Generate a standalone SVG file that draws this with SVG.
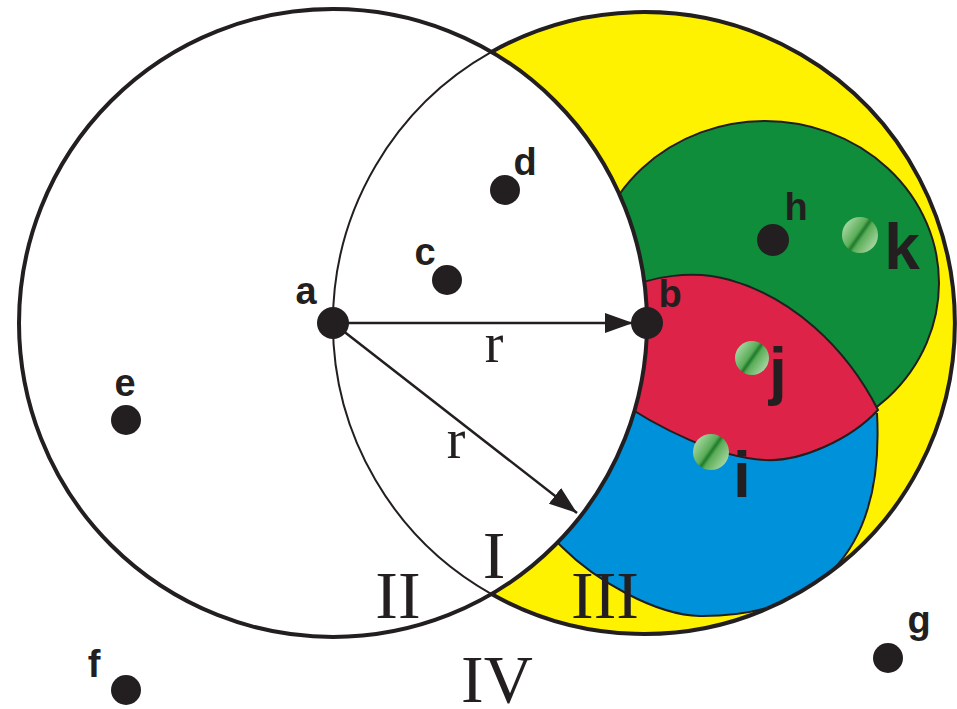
<svg xmlns="http://www.w3.org/2000/svg" width="957" height="709" viewBox="0 0 957 709">
<style>
.lbl{font-family:"Liberation Sans",Arial,sans-serif;font-weight:bold;font-size:38px;fill:#231F20;text-anchor:middle}
.big{font-size:64px}
.rom{font-family:"Liberation Serif","Times New Roman",serif;font-size:68px;fill:#231F20;text-anchor:middle}
.rr{font-size:56px}
.dot{fill:#231F20}
.ball{fill:url(#gball)}
.thick{fill:none;stroke:#231F20;stroke-width:4}
.thin{fill:none;stroke:#231F20;stroke-width:2}
.edge{stroke:#231F20;stroke-width:2}
.arrow{stroke:#231F20;stroke-width:2.5;fill:none;marker-end:url(#ah)}
</style>
<defs>
<clipPath id="rc"><circle cx="644" cy="323" r="311"/></clipPath>
<linearGradient id="gball" x1="0" y1="0.15" x2="1" y2="0.85">
<stop offset="0" stop-color="#b8e0b2"/>
<stop offset="0.42" stop-color="#5aad58"/>
<stop offset="0.5" stop-color="#1f7a2c"/>
<stop offset="0.58" stop-color="#5aad58"/>
<stop offset="1" stop-color="#b8e0b2"/>
</linearGradient>
<marker id="ah" viewBox="0 0 28 20" refX="28" refY="10" markerWidth="28" markerHeight="20" markerUnits="userSpaceOnUse" orient="auto">
<path d="M0,0 L28,10 L0,20 z" fill="#231F20"/>
</marker>
</defs>

<g id="region-yellow">
<circle cx="644" cy="323" r="311" fill="#FFF200"/>
</g>

<g id="colored-regions" clip-path="url(#rc)">
<g id="region-green">
<ellipse cx="765" cy="283" rx="174" ry="162" fill="#0F8D3B" class="edge"/>
</g>
<g id="region-blue">
<path d="M877,413 C885,560 810,617 700,616 C655,615 595,580 562,547 L535,520 L600,380 L700,360 Z" fill="#0091DB"/>
<path d="M877,413 C885,560 810,617 700,616 C655,615 595,580 562,547 L535,520" fill="none" class="edge"/>
</g>
<g id="region-red">
<path d="M620,292 C650,275 695,270 730,280 C790,297 845,345 878,410 C850,440 800,462 765,460 C720,458 660,430 610,395 Z" fill="#DD2347" class="edge"/>
</g>
</g>

<g id="circle-left">
<circle cx="333" cy="323" r="314" style="fill:#FFFFFF;stroke:#231F20;stroke-width:4"/>
</g>
<g id="circle-right">
<path d="M491.5,51.9 A311,311 0 0 0 491.5,594.1" class="thin"/>
<path d="M491.5,51.9 A311,311 0 1 1 491.5,594.1" class="thick"/>
</g>

<g id="connectors">
<line x1="333" y1="323" x2="633" y2="323" class="arrow"/>
<line x1="333" y1="323" x2="577" y2="513" class="arrow"/>
<text x="494" y="362" class="rom rr">r</text>
<text x="456" y="458" class="rom rr">r</text>
</g>

<g id="region-labels">
<text x="494" y="578" class="rom">I</text>
<text x="398" y="618" class="rom">II</text>
<text x="605" y="618" class="rom">III</text>
<text x="497" y="702" class="rom">IV</text>
</g>

<g id="point-a"><circle cx="333" cy="323" r="16" class="dot"/><text x="306" y="304" class="lbl">a</text></g>
<g id="point-b"><circle cx="647" cy="323" r="16" class="dot"/><text x="670" y="307" class="lbl">b</text></g>
<g id="point-c"><circle cx="447" cy="280" r="15" class="dot"/><text x="425" y="265" class="lbl">c</text></g>
<g id="point-d"><circle cx="505" cy="190" r="15" class="dot"/><text x="525" y="175" class="lbl">d</text></g>
<g id="point-e"><circle cx="126" cy="420" r="15" class="dot"/><text x="125" y="396" class="lbl">e</text></g>
<g id="point-f"><circle cx="126" cy="690" r="15" class="dot"/><text x="94" y="677" class="lbl">f</text></g>
<g id="point-g"><circle cx="888" cy="658" r="15" class="dot"/><text x="919" y="633" class="lbl">g</text></g>
<g id="point-h"><circle cx="773" cy="240" r="16" class="dot"/><text x="796" y="220" class="lbl">h</text></g>
<g id="point-k"><circle cx="860" cy="235" r="18" class="ball"/><text x="902" y="269" class="lbl big">k</text></g>
<g id="point-j"><circle cx="752" cy="358" r="17" class="ball"/><text x="778" y="393" class="lbl big">j</text></g>
<g id="point-i"><circle cx="711" cy="452" r="18" class="ball"/><text x="742" y="497" class="lbl big">i</text></g>
</svg>
